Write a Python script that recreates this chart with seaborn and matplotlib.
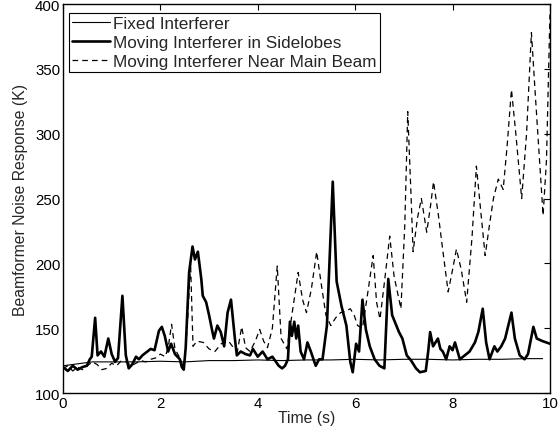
import matplotlib
matplotlib.use("Agg")
import matplotlib.pyplot as plt
import seaborn as sns
import pandas as pd

# ---- data ----
t_fixed = [0, 0.2, 0.4, 0.6, 1.0, 1.5, 2.0, 2.5, 3.0, 3.5, 4.0, 4.5, 5.0, 5.5,
           6.0, 6.5, 7.0, 7.5, 8.0, 8.5, 9.0, 9.5, 9.85]
y_fixed = [121, 122, 123, 124, 124, 124, 124.5, 124, 125, 125, 125.5, 125, 125.5,
           125.5, 126, 125.5, 126, 126, 125.5, 126, 126, 126.5, 126.5]

t_side = [0.0, 0.1, 0.2, 0.3, 0.4, 0.49, 0.55, 0.59, 0.66, 0.71, 0.78, 0.85, 0.93,
          1.0, 1.07, 1.13, 1.22, 1.29, 1.35, 1.42, 1.5, 1.56, 1.63, 1.73, 1.8, 1.88,
          1.97, 2.03, 2.09, 2.16, 2.22, 2.3, 2.4, 2.44, 2.48, 2.52, 2.59, 2.66, 2.71,
          2.77, 2.84, 2.87, 2.94, 3.0, 3.07, 3.1, 3.17, 3.24, 3.31, 3.38, 3.45, 3.53,
          3.57, 3.65, 3.75, 3.84, 3.9, 4.0, 4.1, 4.2, 4.3, 4.43, 4.5, 4.56, 4.62,
          4.66, 4.7, 4.75, 4.79, 4.83, 4.88, 4.95, 5.02, 5.09, 5.19, 5.26, 5.33,
          5.42, 5.54, 5.62, 5.72, 5.82, 5.9, 5.95, 6.02, 6.08, 6.15, 6.22, 6.3, 6.4,
          6.5, 6.6, 6.68, 6.76, 6.9, 6.97, 7.06, 7.15, 7.25, 7.33, 7.45, 7.5, 7.54,
          7.6, 7.7, 7.75, 7.8, 7.87, 7.94, 8.0, 8.05, 8.15, 8.25, 8.35, 8.46, 8.53,
          8.62, 8.69, 8.76, 8.86, 8.92, 9.0, 9.08, 9.21, 9.28, 9.38, 9.48, 9.55,
          9.66, 9.73, 9.85, 10.0]
y_side = [120, 117, 121, 118, 120, 121, 126, 128, 158, 129, 132, 128, 142,
          130, 124, 127, 175, 129, 119, 122, 128, 126, 129, 132, 134, 133,
          148, 151, 144, 132, 138, 130, 126, 120, 118, 135, 193, 213, 203,
          209, 188, 175, 170, 160, 147, 142, 152, 147, 136, 162, 172, 142,
          129, 132, 130, 129, 134, 128, 132, 126, 128, 121, 119, 121, 126,
          155, 144, 155, 142, 152, 132, 126, 139, 132, 121, 126, 126,
          152, 263, 186, 167, 152, 124, 116, 138, 132, 172, 149, 136, 126,
          121, 119, 188, 160, 147, 142, 129, 125, 119, 116, 117, 132, 147,
          136, 142, 134, 132, 126, 136, 133, 139, 126, 129, 132, 139, 147,
          165, 139, 126, 136, 132, 136, 142, 162, 142, 129, 126, 130,
          151, 142, 140, 138]

t_main = [0.0, 0.1, 0.2, 0.3, 0.4, 0.5, 0.6, 0.7, 0.8, 0.9, 1.0, 1.1, 1.2, 1.3,
          1.4, 1.5, 1.6, 1.7, 1.8, 1.9, 2.0, 2.1, 2.16, 2.23, 2.3, 2.4, 2.48,
          2.55, 2.62, 2.67, 2.75, 2.88, 3.0, 3.12, 3.25, 3.4, 3.5, 3.58, 3.67,
          3.75, 3.84, 3.95, 4.04, 4.12, 4.2, 4.3, 4.4, 4.48, 4.6, 4.7, 4.83,
          4.92, 5.0, 5.1, 5.21, 5.3, 5.4, 5.5, 5.6, 5.7, 5.8, 5.9, 5.98, 6.05,
          6.15, 6.25, 6.37, 6.44, 6.51, 6.6, 6.71, 6.8, 6.94, 7.02, 7.08, 7.15,
          7.19, 7.28, 7.36, 7.47, 7.55, 7.61, 7.71, 7.8, 7.91, 8.0, 8.08, 8.18,
          8.29, 8.4, 8.49, 8.58, 8.67, 8.76, 8.84, 8.94, 9.04, 9.12, 9.21, 9.3,
          9.42, 9.52, 9.62, 9.7, 9.86, 9.93, 10.0]
y_main = [119, 121, 117, 120, 118, 121, 124, 122, 118, 119, 123, 121, 125, 124,
          121, 123, 125, 124, 126, 127, 130, 128, 135, 153, 134, 127, 119,
          150, 200, 136, 140, 139, 134, 132, 138, 140, 135, 132, 151,
          135, 132, 140, 149, 140, 135, 150, 198, 142, 134, 160, 193,
          172, 162, 180, 209, 185, 160, 152, 158, 162, 163, 165, 160, 152,
          150, 175, 206, 170, 157, 185, 221, 190, 165, 230, 317, 250,
          209, 235, 250, 224, 245, 263, 237, 210, 178, 195, 211, 195,
          170, 220, 275, 240, 206, 230, 250, 265, 257, 290, 334, 300,
          250, 300, 378, 330, 237, 280, 392]

labels = ["Fixed Interferer", "Moving Interferer in Sidelobes",
          "Moving Interferer Near Main Beam"]
x_ticks = [0, 2, 4, 6, 8, 10]
y_ticks = [100, 150, 200, 250, 300, 350, 400]

# ---- plotting ----
sns.set_style("white")
plt.rcParams["font.family"] = ["Liberation Sans", "DejaVu Sans"]
plt.rcParams["xtick.direction"] = "in"
plt.rcParams["ytick.direction"] = "in"

fig = plt.figure(figsize=(5.6, 4.39), dpi=100)
ax = fig.add_axes([0.1125, 0.1025, 0.8695, 0.886])

df_fixed = pd.DataFrame({"t": t_fixed, "y": y_fixed})
df_side = pd.DataFrame({"t": t_side, "y": y_side})
df_main = pd.DataFrame({"t": t_main, "y": y_main})

sns.lineplot(data=df_fixed, x="t", y="y", ax=ax, color="black", linewidth=0.8,
             estimator=None, sort=False, label=labels[0])
sns.lineplot(data=df_side, x="t", y="y", ax=ax, color="black", linewidth=1.9,
             estimator=None, sort=False, label=labels[1])
sns.lineplot(data=df_main, x="t", y="y", ax=ax, color="black", linewidth=0.9,
             linestyle=(0, (4.5, 3.3)), estimator=None, sort=False, label=labels[2])

ax.set_xlim(0, 10)
ax.set_ylim(100, 400)
ax.set_xticks(x_ticks)
ax.set_yticks(y_ticks)
ax.tick_params(axis="both", which="both", direction="in", length=4, width=0.8,
               top=True, right=True, labelsize=10.8, colors="black", pad=2)
for s in ax.spines.values():
    s.set_visible(True)
    s.set_color("black")
    s.set_linewidth(1.0)

ax.set_xlabel("Time (s)", fontsize=11.3, labelpad=0.5)
ax.set_ylabel("Beamformer Noise Response (K)", fontsize=11.3, labelpad=5)

leg = ax.legend(loc="upper left", bbox_to_anchor=(0.0123, 0.977), borderaxespad=0,
                fontsize=12.3, handlelength=2.2, handletextpad=0.2, labelspacing=0.22,
                borderpad=0.2, fancybox=False, frameon=True, framealpha=1,
                edgecolor="black")
leg.get_frame().set_linewidth(0.8)

fig.savefig("out.png", dpi=100)
